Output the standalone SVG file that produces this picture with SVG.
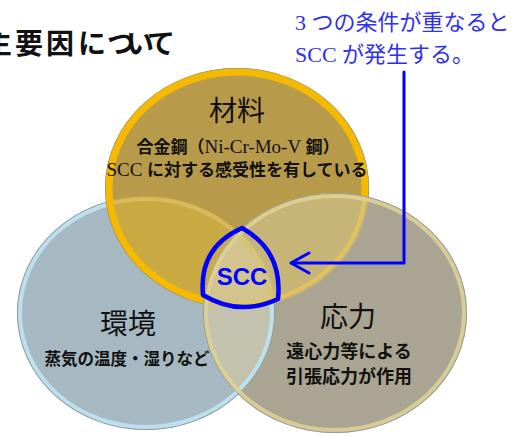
<svg xmlns="http://www.w3.org/2000/svg" width="523" height="436" viewBox="0 0 523 436">
<style>
.lbl{font-family:"Noto Sans CJK JP","Noto Sans",sans-serif;font-size:28px;font-weight:400;fill:#111;text-anchor:middle}
.sub{font-family:"Noto Sans CJK JP","Noto Sans",sans-serif;font-size:17px;font-weight:700;fill:#111;text-anchor:middle}
.lat{font-family:"Liberation Serif",serif;font-weight:400;font-size:19px}
.note{font-family:"Liberation Serif","Noto Sans CJK JP",serif;font-size:22px;fill:#3030F0}
.title{font-family:"Noto Sans CJK JP","Noto Sans",sans-serif;font-size:28px;font-weight:700;fill:#111}
.blue{fill:none;stroke:#0000FF;stroke-linecap:round;stroke-linejoin:round}
</style>
<defs>
<clipPath id="cTop"><ellipse cx="237" cy="188" rx="132" ry="120"/></clipPath>
<clipPath id="cRight"><ellipse cx="335" cy="313" rx="132" ry="120"/></clipPath>
<clipPath id="cLeft"><ellipse cx="146" cy="313" rx="129" ry="117"/></clipPath>
<clipPath id="cOutTop"><path clip-rule="evenodd" d="M-10,-10H533V446H-10Z M105,188 a132,120 0 1,0 264,0 a132,120 0 1,0 -264,0Z"/></clipPath>
<clipPath id="cOutRight"><path clip-rule="evenodd" d="M-10,-10H533V446H-10Z M203,313 a132,120 0 1,0 264,0 a132,120 0 1,0 -264,0Z"/></clipPath>
</defs>

<text class="title" x="-16 15 46 78 107 126 147" y="54">主要因について</text>

<g id="env">
<ellipse cx="146" cy="313" rx="129" ry="117" fill="#A6B8C2"/>
</g>
<g id="material">
<ellipse cx="237" cy="188" rx="132" ry="120" fill="#B89B4A"/>
</g>
<g id="stress">
<ellipse cx="335" cy="313" rx="132" ry="120" fill="#AAA493"/>
</g>

<g id="overlaps">
<g clip-path="url(#cTop)"><ellipse cx="146" cy="313" rx="129" ry="117" fill="#C9A942"/></g>
<g clip-path="url(#cTop)"><ellipse cx="335" cy="313" rx="132" ry="120" fill="#C7B577"/></g>
<g clip-path="url(#cLeft)"><ellipse cx="335" cy="313" rx="132" ry="120" fill="#C3C2AC"/></g>
<g clip-path="url(#cLeft)"><g clip-path="url(#cTop)"><ellipse cx="335" cy="313" rx="132" ry="120" fill="#D3C48E"/></g></g>
</g>

<g id="rings">
<g clip-path="url(#cOutTop)">
<ellipse cx="146" cy="313" rx="128.5" ry="116.5" fill="none" stroke="#8E9598" stroke-width="1"/>
<ellipse cx="146" cy="313" rx="126" ry="114" fill="none" stroke="#BCE0EE" stroke-width="4"/>
</g>
<g clip-path="url(#cTop)">
<ellipse cx="146" cy="313" rx="126" ry="114" fill="none" stroke="#DCC266" stroke-width="4" opacity="0.7"/>
</g>
<g clip-path="url(#cOutRight)">
<ellipse cx="237" cy="188" rx="131.5" ry="119.5" fill="none" stroke="#8A8A80" stroke-width="1"/>
<ellipse cx="237" cy="188" rx="128" ry="116" fill="none" stroke="#F5BA00" stroke-width="7"/>
</g>
<g clip-path="url(#cRight)">
<ellipse cx="237" cy="188" rx="128" ry="116" fill="none" stroke="#E6C45A" stroke-width="4" opacity="0.85"/>
</g>
<ellipse cx="335" cy="313" rx="131.5" ry="119.5" fill="none" stroke="#9C9A8E" stroke-width="1"/>
<ellipse cx="335" cy="313" rx="129" ry="117" fill="none" stroke="#DCD096" stroke-width="4" opacity="0.9"/>
</g>

<g id="labels">
<text class="lbl" x="237" y="121">材料</text>
<text class="sub" x="238" y="153">合金鋼（<tspan class="lat">Ni-Cr-Mo-V </tspan>鋼）</text>
<text class="sub" x="237" y="176"><tspan class="lat">SCC </tspan>に対する感受性を有している</text>
<text class="lbl" x="128" y="334">環境</text>
<text class="sub" x="127" y="365" style="font-size:16.5px">蒸気の温度・湿りなど</text>
<text class="lbl" x="348" y="327">応力</text>
<text class="sub" x="349" y="358" style="font-size:18px">遠心力等による</text>
<text class="sub" x="349" y="383" style="font-size:18px">引張応力が作用</text>
</g>

<g id="scc">
<path class="blue" stroke-width="4.5" d="M242,228 Q283,251 278,299 Q239,317 203,295 Q198.5,247.5 242,228 Z"/>
<text x="242" y="285" text-anchor="middle" style="font-family:'Liberation Sans',Arial,sans-serif;font-weight:700;font-size:24px;fill:#0000FF">SCC</text>
</g>

<g id="connectors">
<polyline class="blue" stroke-width="3" points="404,72 404,263 292,263"/>
<polyline class="blue" stroke-width="3" points="309,253 291,263 309,273"/>
</g>

<g id="note">
<text class="note" x="295" y="30">3 つの条件が重なると</text>
<text class="note" x="295" y="62">SCC が発生する。</text>
</g>
</svg>
